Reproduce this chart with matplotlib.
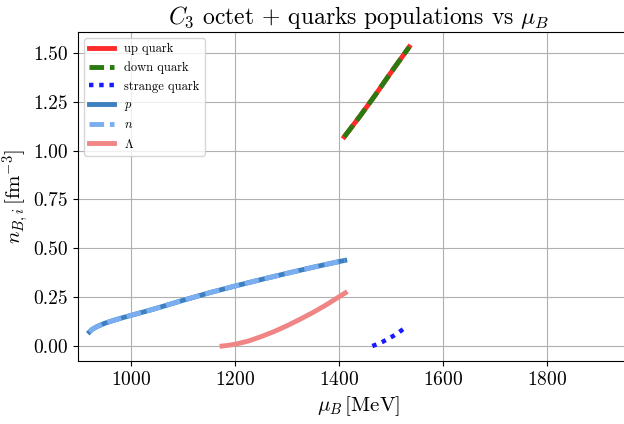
import numpy as np
import matplotlib
matplotlib.use('Agg')
import matplotlib.pyplot as plt

plt.rcParams['font.family'] = 'serif'
plt.rcParams['font.serif'] = ['cmr10', 'DejaVu Serif']
plt.rcParams['mathtext.fontset'] = 'cm'
plt.rcParams['axes.formatter.use_mathtext'] = True

# Значения
mu_p = [920, 925, 935, 950, 965, 980, 1000, 1025, 1050, 1075, 1100, 1150,
        1200, 1250, 1300, 1350, 1400, 1411]
n_p = [0.072, 0.085, 0.100, 0.117, 0.130, 0.142, 0.157, 0.175, 0.194, 0.214,
       0.234, 0.272, 0.307, 0.340, 0.372, 0.403, 0.432, 0.438]

mu_lam = [1175, 1185, 1200, 1225, 1250, 1275, 1300, 1325, 1350, 1375, 1400, 1412]
n_lam = [0.0, 0.003, 0.009, 0.025, 0.048, 0.074, 0.104, 0.137, 0.172, 0.210, 0.252, 0.272]

mu_q = [1410, 1440, 1470, 1500, 1535]
n_u = [1.07, 1.175, 1.285, 1.40, 1.53]
n_d = [1.07, 1.175, 1.285, 1.40, 1.53]

mu_s = [1464, 1474, 1484, 1494, 1504, 1514, 1526]
n_s = [0.0, 0.010, 0.022, 0.036, 0.051, 0.068, 0.092]

fig = plt.figure(figsize=(6.24, 4.24), dpi=100)
ax = fig.add_axes([0.125, 0.1486, 0.90, 0.776])

ax.plot(mu_q, n_u, color='#ff2a2a', lw=3.5, label='up quark')
ax.plot(mu_q, n_d, color='#2a7a10', lw=3.5, ls=(0, (3, 1.2)), label='down quark')
ax.plot(mu_s, n_s, color='#1a1aff', lw=3.2, ls=(0, (1, 1.3)), label='strange quark')
ax.plot(mu_p, n_p, color='#3d80c0', lw=3.5, label='$p$')
ax.plot(mu_p, n_p, color='#7aaef0', lw=3.5, ls=(0, (3, 1.2)), label='$n$')
ax.plot(mu_lam, n_lam, color='#f08585', lw=3.5, label=r'$\Lambda$')

ax.set_xlim(898, 1978)
ax.set_xticks([1000, 1200, 1400, 1600, 1800])
ax.set_yticks([0.0, 0.25, 0.5, 0.75, 1.0, 1.25, 1.5])
ax.set_yticklabels(['0.00', '0.25', '0.50', '0.75', '1.00', '1.25', '1.50'])
ax.tick_params(labelsize=14)
ax.grid(True)

ax.set_xlabel(r'$\mu_B\,[\mathrm{MeV}]$', fontsize=15)
ax.set_ylabel(r'$n_{B,i}\,[\mathrm{fm}^{-3}]$', fontsize=15, labelpad=1)
ax.set_title(r'$C_3$ octet + quarks populations vs $\mu_B$', fontsize=17)
ax.legend(loc='upper left', fontsize=9)

fig.savefig('out.png', dpi=100)
